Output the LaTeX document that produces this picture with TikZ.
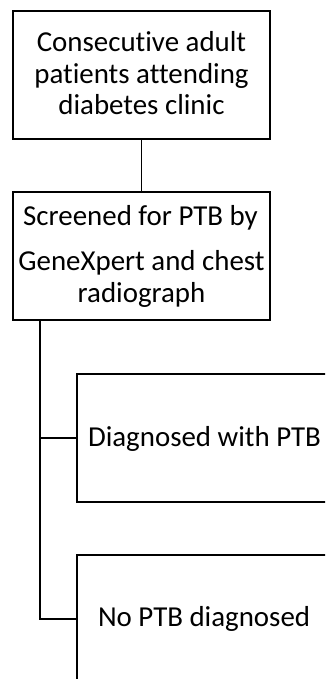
\documentclass[tikz,border=0pt]{standalone}
\usepackage{fontspec}
\setmainfont{Carlito}[Ligatures=NoCommon]
\begin{document}
\begin{tikzpicture}[x=1pt,y=-1pt,
  box/.style={draw, line width=1.8pt, inner sep=0pt, outer sep=0pt},
  lbl/.style={inner sep=0pt, outer sep=0pt, font=\fontsize{28.9}{34}\selectfont},
  link/.style={line width=1.8pt}]
\useasboundingbox (0,0) rectangle (325,679);
\clip (0,0) rectangle (325,679);

% boxes
\node[box, minimum width=257pt, minimum height=128pt] (intake) at (141.5,75) {};
\node[box, minimum width=257pt, minimum height=128pt] (screen) at (141.5,256) {};
\node[box, minimum width=268pt, minimum height=128pt] (pos) at (211,438) {};
\node[box, minimum width=268pt, minimum height=128pt] (neg) at (211,619) {};

% labels
\node[lbl, anchor=base] (i1) at (141.5,52) {Consecutive adult};
\node[lbl, anchor=base] (i2) at (141.5,83.5) {patients attending};
\node[lbl, anchor=base] (i3) at (141.5,115) {diabetes clinic};
\node[lbl, anchor=base] (s1) at (140.5,225) {Screened for PTB by};
\node[lbl, anchor=base] (s2) at (141.5,270) {GeneXpert and chest};
\node[lbl, anchor=base] (s3) at (141.5,302) {radiograph};
\node[lbl, anchor=base west] (p1) at (88,446) {Diagnosed with PTB};
\node[lbl, anchor=base west] (n1) at (98,626) {No PTB diagnosed};

% connectors
\draw[link] (intake.south) -- (screen.north);
\coordinate (trunk) at (40,320);
\draw[link] (trunk) |- (pos.west);
\draw[link] (trunk) |- (neg.west);
\end{tikzpicture}
\end{document}
